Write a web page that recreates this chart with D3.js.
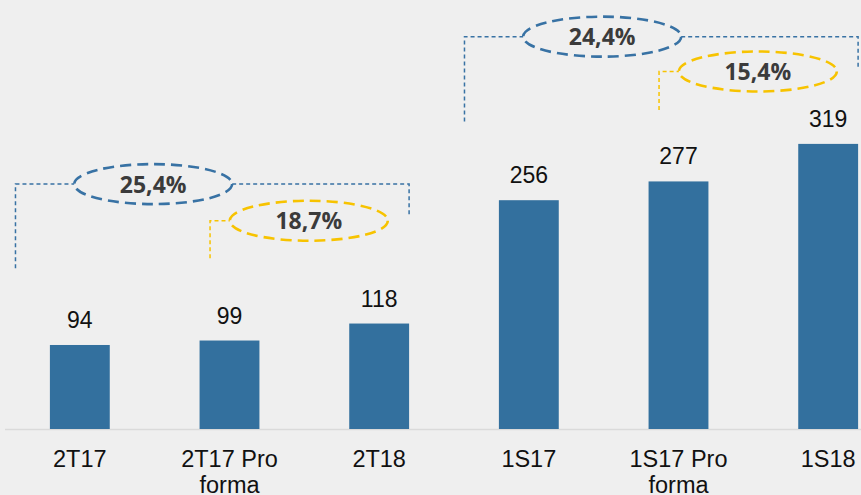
<!DOCTYPE html>
<html>
<head>
<meta charset="utf-8">
<script src="https://cdn.jsdelivr.net/npm/d3@7"></script>
<style>
  html, body { margin: 0; padding: 0; background: #efefef; }
  svg { display: block; }
</style>
</head>
<body>
<script>
// categories and values
var categories = ['2T17', '2T17 Pro forma', '2T18', '1S17', '1S17 Pro forma', '1S18'];
var values = [94, 99, 118, 256, 277, 319];
var tickLines = [['2T17'], ['2T17 Pro', 'forma'], ['2T18'], ['1S17'], ['1S17 Pro', 'forma'], ['1S18']];

// growth annotations: from category -> to category, label, level (in value units)
var growthFrom = ['2T17', '2T17 Pro forma', '1S17', '1S17 Pro forma'];
var growthTo = ['2T18', '2T18', '1S18', '1S18'];
var growthLabels = ['25,4%', '18,7%', '24,4%', '15,4%'];
var growthKind = ['blue', 'yellow', 'blue', 'yellow'];
var growthLevel = [274, 233, 439, 400];
var growthDropLeft = [180, 191, 344, 357];
var growthDropRight = [240, null, 405, null];

var width = 861, height = 495;
var colors = { bar: '#33709e', blue: '#3872a4', yellow: '#f7c300', text: '#111', pct: '#3b3b3b' };

var svg = d3.select('body').append('svg')
    .attr('width', width).attr('height', height);

svg.append('rect').attr('width', width).attr('height', height).attr('fill', '#efefef');

var x = d3.scalePoint().domain(categories).range([5, 903]).padding(0.5);
var step = x.step();
var barW = step * 0.4;
var y = d3.scaleLinear().domain([0, 480]).range([429, 0]);

// baseline
svg.append('line')
    .attr('x1', 5).attr('x2', width)
    .attr('y1', y(0) + 0.5).attr('y2', y(0) + 0.5)
    .attr('stroke', '#dadada').attr('stroke-width', 1.5);

// bars
svg.selectAll('rect.bar').data(values).enter().append('rect')
    .attr('class', 'bar')
    .attr('x', function(d, i) { return x(categories[i]) - barW / 2; })
    .attr('y', function(d) { return y(d); })
    .attr('width', barW)
    .attr('height', function(d) { return y(0) - y(d); })
    .attr('fill', colors.bar);

// value labels
svg.selectAll('text.val').data(values).enter().append('text')
    .attr('class', 'val')
    .attr('x', function(d, i) { return x(categories[i]); })
    .attr('y', function(d) { return y(d) - 17; })
    .attr('text-anchor', 'middle')
    .attr('font-family', 'Liberation Sans, Arial, sans-serif')
    .attr('font-size', 23)
    .attr('fill', colors.text)
    .text(function(d) { return d; });

// category labels
tickLines.forEach(function(lines, i) {
    lines.forEach(function(t, j) {
        svg.append('text')
            .attr('x', x(categories[i]))
            .attr('y', 466.5 + j * 26)
            .attr('text-anchor', 'middle')
            .attr('font-family', 'Liberation Sans, Arial, sans-serif')
            .attr('font-size', 23.5)
            .attr('fill', colors.text)
            .text(t);
    });
});

// growth annotations
var rx = 79, ry = 20;
growthLabels.forEach(function(label, i) {
    var col = colors[growthKind[i]];
    var fx = x(growthFrom[i]);
    var tx = x(growthTo[i]);
    var cy = y(growthLevel[i]);
    var cx, leftX;
    if (growthKind[i] == 'blue') {
        cx = fx + step * 0.49;
        leftX = fx - step * 0.43;
    } else {
        cx = fx + step * 0.53;
        leftX = fx - step * 0.13;
    }
    var conn = svg.append('g')
        .attr('fill', 'none').attr('stroke', col)
        .attr('stroke-width', 1.5).attr('stroke-dasharray', '4,3');
    conn.append('path')
        .attr('d', 'M' + leftX + ',' + y(growthDropLeft[i]) + 'V' + cy + 'H' + (cx - rx));
    if (growthDropRight[i] != null) {
        var rightX = tx + barW / 2;
        conn.append('path')
            .attr('d', 'M' + (cx + rx) + ',' + cy + 'H' + rightX + 'V' + y(growthDropRight[i]));
    }
    svg.append('ellipse')
        .attr('cx', cx).attr('cy', cy)
        .attr('rx', rx).attr('ry', ry)
        .attr('fill', 'none')
        .attr('stroke', col).attr('stroke-width', 2.6)
        .attr('stroke-dasharray', '11,6');
    svg.append('text')
        .attr('x', cx).attr('y', cy + 8.5)
        .attr('text-anchor', 'middle')
        .attr('font-family', 'Open Sans, Noto Sans, sans-serif')
        .attr('font-weight', 'bold')
        .attr('font-size', 23)
        .attr('fill', colors.pct)
        .text(label);
});
</script>
</body>
</html>
